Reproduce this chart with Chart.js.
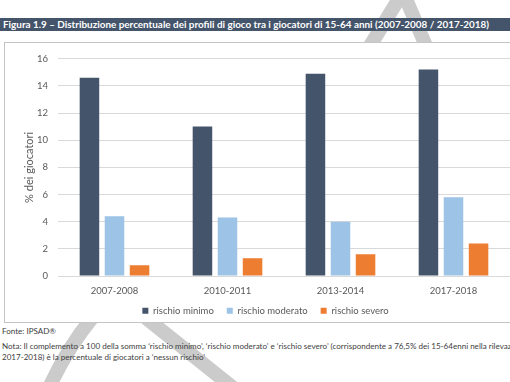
<!DOCTYPE html>
<html>
<head>
<meta charset="utf-8">
<script src="https://cdn.jsdelivr.net/npm/chart.js@4.4.0/dist/chart.umd.min.js"></script>
<style>
  html, body { margin: 0; padding: 0; background: #fff; }
  body { width: 510px; height: 382px; overflow: hidden; position: relative; font-family: Lato, "Open Sans", sans-serif; }
  #wm { position: absolute; left: 0; top: 0; z-index: 0; }
  #title { position: absolute; left: 0; top: 18px; width: 530px; height: 13px; background: #44546a; z-index: 1; }
  #title span { position: absolute; left: 3px; top: 0px; color: #fff; font-weight: bold; font-size: 10px; line-height: 13px; white-space: nowrap; transform-origin: 0 0; }
  #frame { position: absolute; left: 4px; top: 42px; width: 540px; height: 279px; border: 1px solid #c4c4c4; background: #fff; z-index: 1; }
  #box { position: absolute; left: 0; top: 0; width: 506px; height: 279px; }
  .note { position: absolute; left: 2px; font-size: 8px; color: #404040; white-space: nowrap; transform-origin: 0 50%; z-index: 2; line-height: 10px; }
</style>
</head>
<body>
<svg id="wm" width="510" height="382">
  <g stroke="#cbcbcb" stroke-width="14" fill="none">
    <path d="M 403 -8 L 370 46"/>
    <path d="M 403 -8 L 426 46"/>
    <path d="M 92 318 Q 66 350 48 390"/>
    <path d="M 146 318 L 236 390"/>
  </g>
</svg>
<div id="title"><span id="ttext">Figura 1.9 – Distribuzione percentuale dei profili di gioco tra i giocatori di 15-64 anni (2007-2008 / 2017-2018)</span></div>
<div id="frame"><div id="box"><canvas id="myChart"></canvas></div></div>
<div class="note" id="n1" style="top:326px">Fonte: IPSAD®</div>
<div class="note" id="n2" style="top:341px">Nota: Il complemento a 100 della somma ‘rischio minimo’, ‘rischio moderato’ e ‘rischio severo’ (corrispondente a 76,5% dei 15-64enni nella rilevazione</div>
<div class="note" id="n3" style="top:352px">2017-2018) è la percentuale di giocatori a ‘nessun rischio’</div>
<script>
var periods = ["2007-2008", "2010-2011", "2013-2014", "2017-2018"]
var minimo = [14.6, 11.0, 14.9, 15.2]
var moderato = [4.4, 4.3, 4.0, 5.8]
var severo = [0.8, 1.3, 1.6, 2.4]
var yTicks = [0, 2, 4, 6, 8, 10, 12, 14, 16]

// fit title and notes to the widths seen in the picture
var t = document.getElementById("ttext")
t.style.transform = "scaleX(" + (486 / t.getBoundingClientRect().width) + ")"
var n3 = document.getElementById("n3")
var s = 203 / n3.getBoundingClientRect().width
;["n1", "n2", "n3"].forEach(function(id) {
  document.getElementById(id).style.transform = "scaleX(" + s + ")"
})

// legend keeps its wide item spacing but a shorter box,
// and is centred on the whole frame (which runs past the right edge)
var legendHeight = {
  id: "legendHeight",
  beforeInit: function(chart) {
    var fit = chart.legend.fit
    chart.legend.fit = function() {
      fit.call(this)
      this.height = 28
    }
  },
  afterLayout: function(chart) {
    chart.legend.left += 8
    chart.legend.right += 8
  }
}

var grey = "#595959"
var ctx = document.getElementById("myChart").getContext("2d")
var chart = new Chart(ctx, {
  type: "bar",
  data: {
    labels: periods,
    datasets: [
      { label: "rischio minimo", data: minimo, backgroundColor: "#44546a" },
      { label: "rischio moderato", data: moderato, backgroundColor: "#9dc3e6" },
      { label: "rischio severo", data: severo, backgroundColor: "#ed7d31" }
    ]
  },
  plugins: [legendHeight],
  options: {
    responsive: true,
    maintainAspectRatio: false,
    animation: false,
    layout: { padding: { top: 11, right: 1, left: 0, bottom: 1 } },
    datasets: { bar: { categoryPercentage: 0.665, barPercentage: 0.78 } },
    scales: {
      x: {
        afterFit: function(scale) {
          scale.height = 17
          scale._computeLabelArea = function() {}   // don't clip labels to the short box
        },
        grid: { display: false, drawTicks: false },
        border: { display: false },
        ticks: { color: grey, font: { family: "Lato", size: 9.5 }, padding: 9 }
      },
      y: {
        min: 0,
        max: 16,
        afterBuildTicks: function(scale) { scale.ticks = yTicks.map(function(v) { return { value: v } }) },
        afterFit: function(scale) { scale.width = 53 },
        grid: { color: "#d9d9d9", lineWidth: 1, drawTicks: false },
        border: { display: false },
        ticks: { color: grey, font: { family: "Lato", size: 9.5 }, padding: 10 },
        title: { display: true, text: "% dei giocatori", color: grey, font: { family: "Lato", size: 11 }, padding: { top: 18, bottom: 0 } }
      }
    },
    plugins: {
      tooltip: { enabled: false },
      legend: {
        position: "bottom",
        labels: { color: grey, font: { family: "Lato", size: 9.5 }, boxWidth: 6, boxHeight: 6, padding: 13 }
      }
    }
  }
})
</script>
</body>
</html>
